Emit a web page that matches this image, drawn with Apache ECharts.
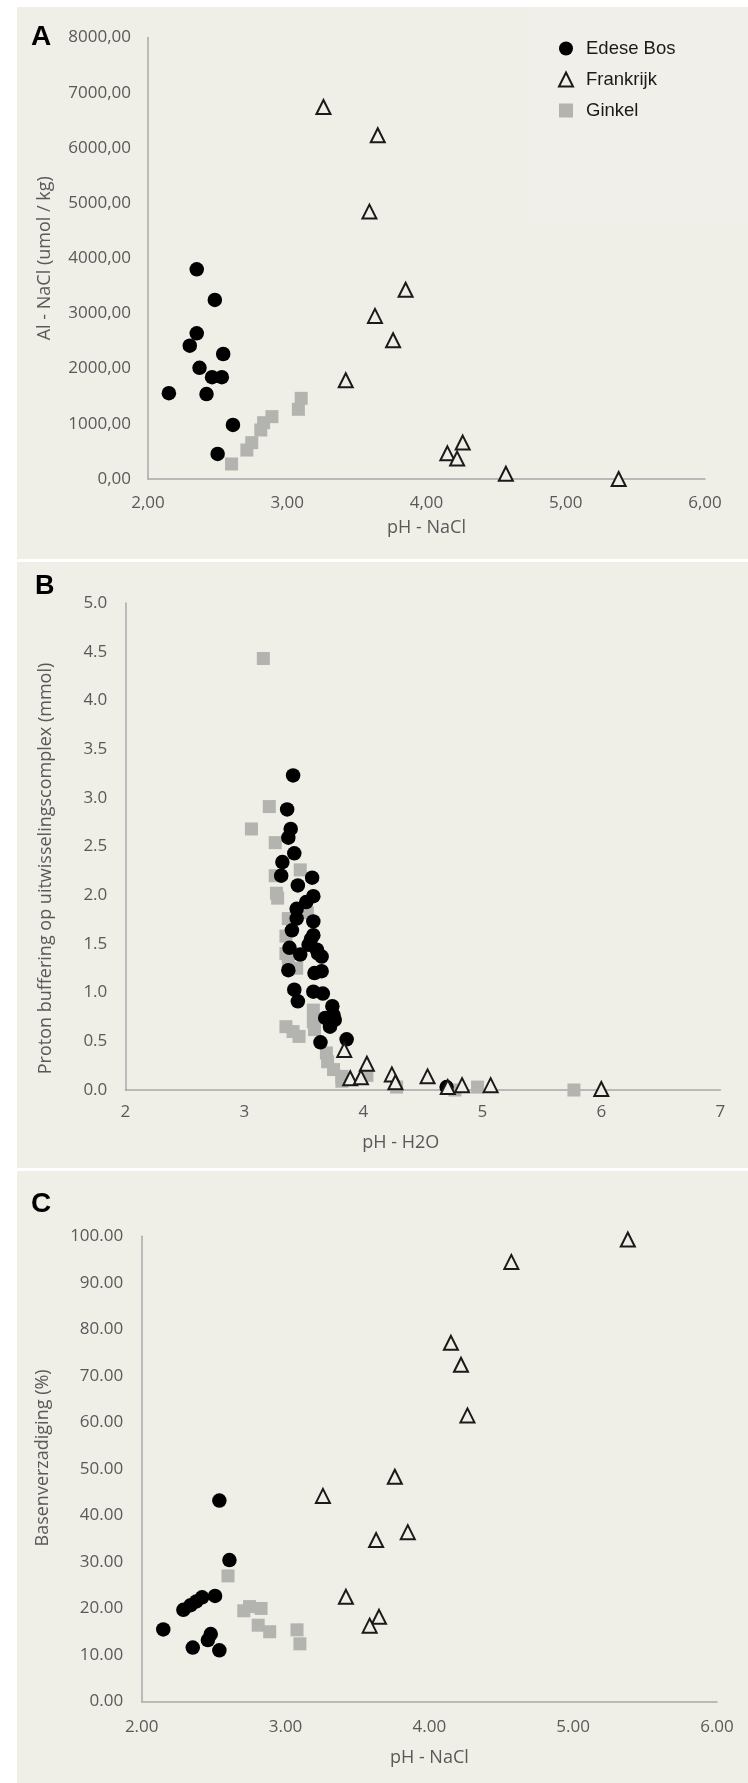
<!DOCTYPE html>
<html>
<head>
<meta charset="utf-8">
<script src="https://cdn.jsdelivr.net/npm/echarts@6/dist/echarts.min.js"></script>
<style>
html,body{margin:0;padding:0;background:#ffffff;}
#chart{width:748px;height:1783px;}
</style>
</head>
<body>
<div id="chart"></div>
<script>
// ---------- Data ----------
var seriesNames = ['Edese Bos', 'Frankrijk', 'Ginkel'];

// Panel A: pH-NaCl vs Al-NaCl (umol/kg)
var edeseA = [[2.35,3800],[2.48,3245],[2.35,2640],[2.30,2415],[2.54,2265],[2.37,2015],[2.46,1845],[2.53,1845],[2.15,1555],[2.42,1540],[2.61,980],[2.50,455]];
var frankrijkA = [[3.26,6740],[3.65,6230],[3.59,4845],[3.85,3430],[3.63,2955],[3.76,2515],[3.42,1790],[4.26,660],[4.15,465],[4.22,370],[4.57,95],[5.38,0]];
var ginkelA = [[2.60,272],[2.71,525],[2.745,658],[2.81,888],[2.83,1020],[2.89,1130],[3.08,1263],[3.10,1462]];

// Panel B: pH-H2O vs proton buffering (mmol)
var edeseB = [[3.41,3.23],[3.36,2.88],[3.39,2.68],[3.37,2.59],[3.42,2.43],[3.32,2.34],[3.31,2.20],[3.57,2.18],[3.45,2.10],[3.58,1.99],[3.52,1.93],[3.44,1.86],[3.44,1.76],[3.58,1.73],[3.40,1.64],[3.58,1.59],[3.56,1.55],[3.38,1.46],[3.54,1.49],[3.61,1.44],[3.62,1.40],[3.65,1.37],[3.47,1.39],[3.37,1.23],[3.59,1.20],[3.65,1.22],[3.42,1.03],[3.58,1.01],[3.66,0.99],[3.45,0.91],[3.74,0.86],[3.75,0.77],[3.68,0.74],[3.72,0.65],[3.76,0.72],[3.64,0.49],[3.86,0.52],[4.70,0.03]];
var frankrijkB = [[3.84,0.41],[4.03,0.27],[3.89,0.12],[3.98,0.13],[4.24,0.16],[4.27,0.08],[4.54,0.14],[4.71,0.03],[4.83,0.05],[5.07,0.05],[6.00,0.01]];
var ginkelB = [[3.16,4.43],[3.21,2.91],[3.06,2.68],[3.26,2.54],[3.26,2.20],[3.47,2.26],[3.27,2.02],[3.28,1.97],[3.37,1.76],[3.53,1.82],[3.35,1.58],[3.35,1.40],[3.37,1.32],[3.44,1.25],[3.35,0.65],[3.41,0.60],[3.46,0.55],[3.58,0.82],[3.58,0.70],[3.59,0.62],[3.69,0.38],[3.70,0.29],[3.75,0.21],[3.82,0.14],[3.82,0.09],[4.03,0.15],[4.28,0.03],[4.77,0.00],[4.96,0.03],[5.77,0.00]];

// Panel C: pH-NaCl vs Basenverzadiging (%)
var edeseC = [[2.15,15.5],[2.29,19.7],[2.34,20.7],[2.38,21.5],[2.42,22.4],[2.51,22.7],[2.54,43.2],[2.61,30.4],[2.355,11.6],[2.48,14.5],[2.46,13.2],[2.54,11.0]];
var frankrijkC = [[3.26,44.2],[3.76,48.3],[4.57,94.5],[5.38,99.3],[4.15,77.1],[4.22,72.4],[4.265,61.5],[3.85,36.4],[3.63,34.7],[3.42,22.5],[3.65,18.2],[3.585,16.3]];
var ginkelC = [[2.60,27.0],[2.71,19.5],[2.75,20.4],[2.83,20.0],[2.81,16.4],[2.89,15.0],[3.08,15.4],[3.10,12.4]];

// Tick labels
var xTicksA = ['2,00','3,00','4,00','5,00','6,00'];
var yTicksA = ['0,00','1000,00','2000,00','3000,00','4000,00','5000,00','6000,00','7000,00','8000,00'];
var xTicksB = ['2','3','4','5','6','7'];
var yTicksB = ['0.0','0.5','1.0','1.5','2.0','2.5','3.0','3.5','4.0','4.5','5.0'];
var xTicksC = ['2.00','3.00','4.00','5.00','6.00'];
var yTicksC = ['0.00','10.00','20.00','30.00','40.00','50.00','60.00','70.00','80.00','90.00','100.00'];

// Titles
var panelLetters = ['A', 'B', 'C'];
var xTitles = ['pH - NaCl', 'pH - H2O', 'pH - NaCl'];
var yTitles = ['Al - NaCl (umol / kg)', 'Proton buffering op uitwisselingscomplex (mmol)', 'Basenverzadiging (%)'];

// ---------- Styles ----------
var BG = '#efeee7';
var TXT = '#595959';
var AXIS = '#a8a8a8';
var FONT = '"Open Sans", sans-serif';

function tickFmt(arr, min, step) {
  return function (v) {
    var i = Math.round((v - min) / step);
    return arr[i] !== undefined ? arr[i] : '';
  };
}

function axisCfg(grid, min, max, step, ticks, title, margin, gap, pad) {
  return {
    type: 'value', gridIndex: grid, min: min, max: max, interval: step,
    axisLine: { show: true, onZero: false, lineStyle: { color: AXIS, width: 1.5 } },
    axisTick: { show: false }, splitLine: { show: false },
    axisLabel: { formatter: tickFmt(ticks, min, step), color: TXT, fontFamily: FONT, fontSize: 17, margin: margin },
    name: title, nameLocation: 'middle', nameGap: gap,
    nameTextStyle: { color: TXT, fontFamily: FONT, fontSize: 18, padding: pad || 0 }
  };
}

var circleStyle = { symbol: 'circle', symbolSize: 14.5, itemStyle: { color: '#000000', opacity: 1 }, z: 3 };
var triStyle = { symbol: 'triangle', symbolSize: 14, itemStyle: { color: BG, borderColor: '#1a1a1a', borderWidth: 2, opacity: 1 }, z: 4 };
var squareStyle = { symbol: 'rect', symbolSize: 13, itemStyle: { color: '#b3b3b0', opacity: 1 }, z: 2 };

function sc(name, data, grid, style) {
  return Object.assign({
    type: 'scatter', name: name, data: data,
    xAxisIndex: grid, yAxisIndex: grid,
    emphasis: { disabled: true }, animation: false
  }, JSON.parse(JSON.stringify(style)));
}

var chart = echarts.init(document.getElementById('chart'), null, { renderer: 'canvas' });

var option = {
  backgroundColor: '#ffffff',
  animation: false,
  graphic: [
    { type: 'rect', shape: { x: 17, y: 7, width: 731, height: 552 }, style: { fill: BG }, z: -10, silent: true },
    { type: 'rect', shape: { x: 527, y: 7, width: 221, height: 218 }, style: { fill: '#f0efe9' }, z: -9, silent: true },
    { type: 'rect', shape: { x: 17, y: 562, width: 731, height: 606 }, style: { fill: BG }, z: -10, silent: true },
    { type: 'rect', shape: { x: 17, y: 1171, width: 731, height: 612 }, style: { fill: BG }, z: -10, silent: true },
    { type: 'text', x: 31, y: 37.5, style: { text: panelLetters[0], fill: '#000', font: 'bold 28px "Liberation Sans", Arial, sans-serif', textVerticalAlign: 'middle' }, z: 5 },
    { type: 'text', x: 35, y: 586.5, style: { text: panelLetters[1], fill: '#000', font: 'bold 27px "Liberation Sans", Arial, sans-serif', textVerticalAlign: 'middle' }, z: 5 },
    { type: 'text', x: 31, y: 1204, style: { text: panelLetters[2], fill: '#000', font: 'bold 28px "Liberation Sans", Arial, sans-serif', textVerticalAlign: 'middle' }, z: 5 }
  ],
  legend: {
    orient: 'vertical', left: 553, top: 34,
    itemWidth: 14, itemHeight: 14, itemGap: 12,
    data: seriesNames,
    textStyle: { color: '#1a1a1a', fontSize: 18.5, fontFamily: '"Liberation Sans", Arial, sans-serif', padding: [0, 0, 0, 8] },
    selectedMode: false
  },
  grid: [
    { left: 148, top: 37.5, width: 557, height: 441.5, containLabel: false },
    { left: 125.3, top: 603, width: 595, height: 487, containLabel: false },
    { left: 141.7, top: 1236.3, width: 575.3, height: 465.2, containLabel: false }
  ],
  xAxis: [
    axisCfg(0, 2, 6, 1, xTicksA, xTitles[0], 16, 40),
    axisCfg(1, 2, 7, 1, xTicksB, xTitles[1], 14, 44, [0, 44, 0, 0]),
    axisCfg(2, 2, 6, 1, xTicksC, xTitles[2], 17, 47)
  ],
  yAxis: [
    axisCfg(0, 0, 8000, 1000, yTicksA, yTitles[0], 17, 94),
    axisCfg(1, 0, 5, 0.5, yTicksB, yTitles[1], 18, 70, [0, 44, 0, 0]),
    axisCfg(2, 0, 100, 10, yTicksC, yTitles[2], 18.5, 90, [0, 0, 0, 22])
  ],
  series: [
    sc(seriesNames[0], edeseA, 0, circleStyle),
    sc(seriesNames[1], frankrijkA, 0, triStyle),
    sc(seriesNames[2], ginkelA, 0, squareStyle),
    sc(seriesNames[0], edeseB, 1, circleStyle),
    sc(seriesNames[1], frankrijkB, 1, triStyle),
    sc(seriesNames[2], ginkelB, 1, squareStyle),
    sc(seriesNames[0], edeseC, 2, circleStyle),
    sc(seriesNames[1], frankrijkC, 2, triStyle),
    sc(seriesNames[2], ginkelC, 2, squareStyle)
  ]
};
chart.setOption(option);
</script>
</body>
</html>
